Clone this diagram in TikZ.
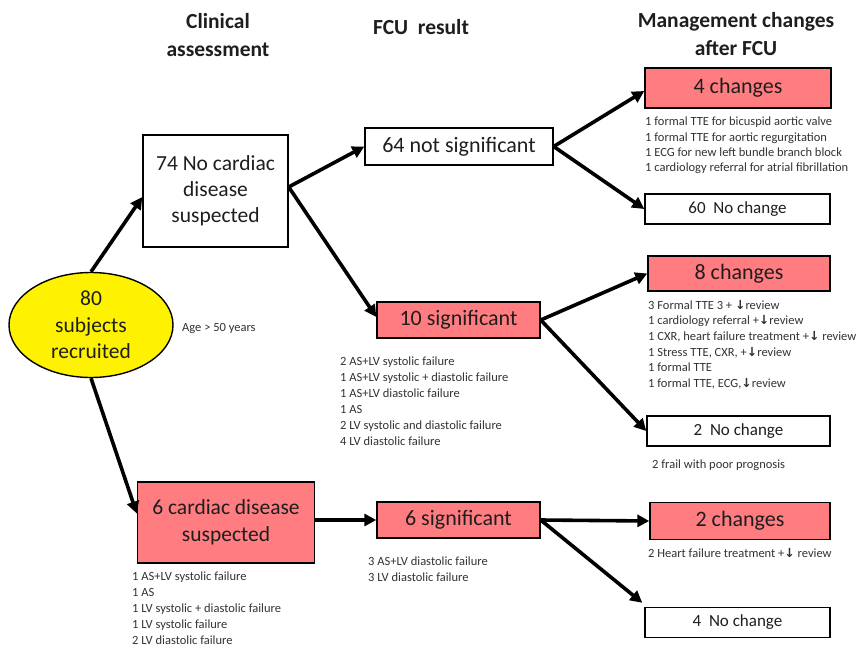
\documentclass[tikz,border=0pt]{standalone}
\usepackage{fontspec}
\setmainfont{Carlito}
\newfontfamily\symf{DejaVu Sans}
\usetikzlibrary{shapes.geometric,arrows.meta}
\definecolor{boxred}{RGB}{255,124,128}
\definecolor{txt}{RGB}{30,30,30}
\definecolor{small}{RGB}{50,50,50}
\newcommand{\dn}{{\symf\bfseries ↓}}
\tikzset{
  box/.style={draw=black,line width=1.4pt,minimum width=#1,inner sep=0pt,align=center,text=txt,font=\fontsize{22}{26}\selectfont},
  redbox/.style={box=#1,fill=boxred},
  whitebox/.style={box=#1,fill=white},
  header/.style={align=center,font=\fontsize{21.5}{28}\selectfont\bfseries,text=txt},
  note/.style={anchor=north west,align=left,inner sep=0pt,text=small,font=\fontsize{12.5}{15.6}\selectfont},
  arr/.style={line width=3.6pt,-{Triangle[length=12pt,width=12pt]}},
}
\begin{document}
\begin{tikzpicture}[x=1pt,y=-1pt]
\useasboundingbox (0,0) rectangle (866,647);
% headers
\node[header] (h1) at (218,35) {Clinical\\assessment};
\node[header] (h2) at (421,27) {FCU\ \ result};
\node[header] (h3) at (736,34) {Management changes\\after FCU};
% nodes
\node[ellipse,draw=black,line width=1.4pt,fill=yellow,minimum width=164,minimum height=105,inner sep=0pt,align=center,text=txt,font=\fontsize{21.5}{26.5}\selectfont] (ell) at (91,325) {80\\subjects\\recruited};
\node[note,anchor=west] (age) at (182,329) {Age > 50 years};
\node[whitebox=145,minimum height=112,font=\fontsize{21.5}{26}\selectfont] (b74) at (215.5,191) {74 No cardiac\\disease\\suspected};
\node[redbox=177,minimum height=81,font=\fontsize{21.5}{27}\selectfont] (b6) at (226,522.5) {6 cardiac disease\\suspected};
\node[whitebox=188,minimum height=37] (n64) at (459,146.5) {64 not significant};
\node[redbox=163,minimum height=36] (s10) at (458.5,320) {10 significant};
\node[redbox=163,minimum height=36] (s6) at (458.5,520) {6 significant};
\node[redbox=186,minimum height=40] (c4) at (738,88) {4 changes};
\node[whitebox=185,minimum height=30,font=\fontsize{17}{22}\selectfont] (nc60) at (737.5,209) {60\ \ No change};
\node[redbox=182,minimum height=35] (c8) at (739,273.5) {8 changes};
\node[whitebox=183,minimum height=30,font=\fontsize{17}{22}\selectfont] (nc2) at (738.5,431) {2\ \ No change};
\node[redbox=180,minimum height=37] (c2) at (740,521) {2 changes};
\node[whitebox=185,minimum height=30,font=\fontsize{17}{22}\selectfont] (nc4) at (737.5,622.5) {4\ \ No change};
% notes
\node[note,font=\fontsize{12.5}{15.3}\selectfont] (l4) at (645,117) {1 formal TTE for bicuspid aortic valve\\1 formal TTE for aortic regurgitation\\1 ECG for new left bundle branch block\\1 cardiology referral for atrial fibrillation};
\node[note] (l8) at (648,300) {3 Formal TTE 3 + \dn review\\1 cardiology referral +\dn review\\1 CXR, heart failure treatment +\dn\ review\\1 Stress TTE, CXR, +\dn review\\1 formal TTE\\1 formal TTE, ECG,\dn review};
\node[note] (frail) at (652,460) {2 frail with poor prognosis};
\node[note] (l2) at (648,548) {2 Heart failure treatment +\dn\ review};
\node[note,font=\fontsize{12.5}{16}\selectfont] (l10) at (340,357) {2 AS+LV systolic failure\\1 AS+LV systolic + diastolic failure\\1 AS+LV diastolic failure\\1 AS\\2 LV systolic and diastolic failure\\4 LV diastolic failure};
\node[note,font=\fontsize{12.5}{16}\selectfont] (ls6) at (368,557) {3 AS+LV diastolic failure\\3 LV diastolic failure};
\node[note,font=\fontsize{12.5}{15.8}\selectfont] (lb6) at (132,572) {1 AS+LV systolic failure\\1 AS\\1 LV systolic + diastolic failure\\1 LV systolic failure\\2 LV diastolic failure};
% arrows
\draw[arr] (ell.north) -- ([yshift=-6pt]b74.west);
\draw[arr] (ell.south) -- ([yshift=9pt]b6.west);
\draw[arr] ([yshift=4pt]b74.east) -- (n64.west);
\draw[arr] ([yshift=4pt]b74.east) -- ([yshift=3pt]s10.west);
\draw[arr] (n64.east) -- ([yshift=-3pt]c4.west);
\draw[arr] (n64.east) -- (nc60.west);
\draw[arr] (s10.east) -- (c8.west);
\draw[arr] (s10.east) -- (nc2.west);
\draw[arr] (b6.east |- s6.west) -- (s6.west);
\draw[arr] (s6.east) -- (c2.west);
\draw[arr] (s6.east) -- ([xshift=-2pt,yshift=4pt]nc4.north west);
\end{tikzpicture}
\end{document}
